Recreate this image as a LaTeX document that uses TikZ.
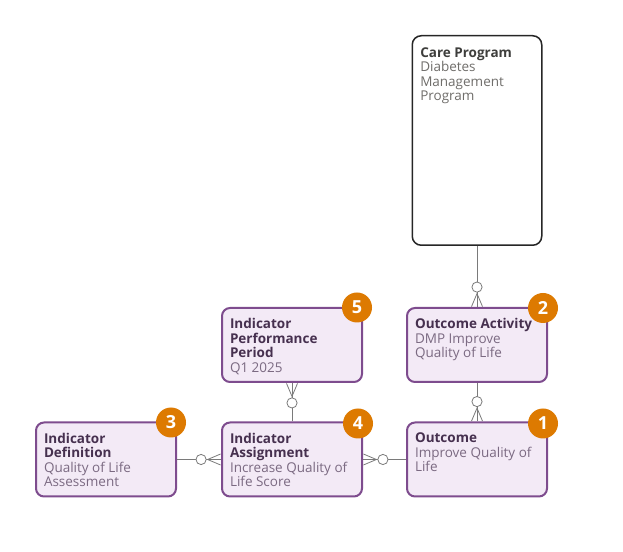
\documentclass[tikz,border=0pt]{standalone}
\usepackage{fontspec}
\setmainfont{Open Sans}
\usepackage{xcolor}
\usetikzlibrary{arrows.meta}

\definecolor{entline}{HTML}{7E4C8E}
\definecolor{entfill}{HTML}{F3EAF6}
\definecolor{enttitle}{HTML}{46304F}
\definecolor{entbody}{HTML}{7B6A82}
\definecolor{cptitle}{HTML}{3E3E3C}
\definecolor{cpbody}{HTML}{706E6B}
\definecolor{badgeor}{HTML}{DD7A01}
\definecolor{lnkgray}{HTML}{7A7A7A}

\begin{document}
\begin{tikzpicture}[x=1pt, y=1pt,
    entity/.style={draw=entline, line width=2pt, fill=entfill, rounded corners=8pt, inner xsep=8pt, inner ysep=0pt, minimum width=140pt, minimum height=74pt, text=entbody, font=\fontsize{13.5}{14.5}\selectfont},
    careent/.style={draw=black!85, line width=1.5pt, fill=white, rounded corners=9pt, inner xsep=8pt, inner ysep=0pt, text=cpbody, font=\fontsize{13.5}{14.5}\selectfont},
    badge/.style={circle, fill=badgeor, text=white, minimum size=30pt, inner sep=0pt, font=\fontsize{18}{18}\selectfont\bfseries},
    conn/.style={draw=lnkgray, line width=0.8pt},
    zeromany/.style={-{Circle[fill=white, length=11pt, width=11pt] Straight Barb[reversed, length=13pt, width=11pt]}}
  ]
    \useasboundingbox (0,0) rectangle (623,551);

    % Entities
    \node[careent] (careprog) at (477,410.5) {\parbox[c][209.5pt][t]{113.5pt}{\vspace*{11.5pt}{\color{cptitle}\bfseries Care Program}\\Diabetes\\Management\\Program}};
    \node[entity] (outact) at (477,206) {\parbox[c][74pt][t]{124pt}{\vspace*{10.5pt}{\color{enttitle}\bfseries Outcome Activity}\\DMP Improve\\Quality of Life}};
    \node[entity] (outcome) at (477,91.5) {\parbox[c][74pt][t]{124pt}{\vspace*{10.5pt}{\color{enttitle}\bfseries Outcome}\\Improve Quality of\\Life}};
    \node[entity] (perfperiod) at (292,206) {\parbox[c][74pt][t]{124pt}{\vspace*{10.5pt}{\color{enttitle}\bfseries Indicator\\Performance\\Period}\\Q1 2025}};
    \node[entity] (indassign) at (292,91.5) {\parbox[c][74pt][t]{124pt}{\vspace*{10.5pt}{\color{enttitle}\bfseries Indicator\\Assignment}\\Increase Quality of\\Life Score}};
    \node[entity] (inddef) at (106,91.5) {\parbox[c][74pt][t]{124pt}{\vspace*{10.5pt}{\color{enttitle}\bfseries Indicator\\Definition}\\Quality of Life\\Assessment}};

    % Relationships
    \draw[conn] (careprog) -- (outact);
    \draw[conn, zeromany] (careprog) -- (outact);
    \draw[conn] (outact) -- (outcome);
    \draw[conn, zeromany] (outact) -- (outcome);
    \draw[conn] (indassign) -- (perfperiod);
    \draw[conn, zeromany] (indassign) -- (perfperiod);
    \draw[conn] (inddef) -- (indassign);
    \draw[conn, zeromany] (inddef) -- (indassign);
    \draw[conn] (outcome) -- (indassign);
    \draw[conn, zeromany] (outcome) -- (indassign);

    % Badges
    \node[badge] (badge1) at ([xshift=-5pt,yshift=-2pt]outcome.north east) {1};
    \node[badge] (badge2) at ([xshift=-5pt,yshift=-1pt]outact.north east) {2};
    \node[badge] (badge3) at ([xshift=-6pt,yshift=-1pt]inddef.north east) {3};
    \node[badge] (badge4) at ([xshift=-5pt,yshift=-2pt]indassign.north east) {4};
    \node[badge] (badge5) at ([xshift=-6pt,yshift=-0.5pt]perfperiod.north east) {5};
\end{tikzpicture}
\end{document}
